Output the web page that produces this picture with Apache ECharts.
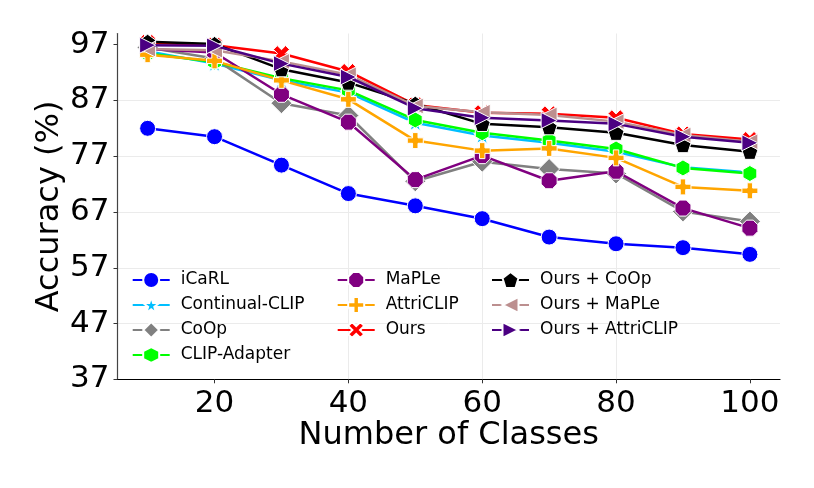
<!DOCTYPE html>
<html>
<head>
<meta charset="utf-8">
<script src="https://cdn.jsdelivr.net/npm/echarts@6/dist/echarts.min.js"></script>
<style>
html,body{margin:0;padding:0;background:#fff;}
#chart{width:814px;height:488px;}
</style>
</head>
<body>
<div id="chart"></div>
<script>
// ---- data ----
const classes = [10, 20, 30, 40, 50, 60, 70, 80, 90, 100];
const icarl        = [82.0, 80.5, 75.4, 70.3, 68.1, 65.8, 62.5, 61.3, 60.6, 59.4];
const continualClip= [95.8, 93.6, 90.6, 88.4, 83.0, 80.7, 79.4, 77.8, 75.0, 74.1];
const coop         = [96.5, 94.5, 86.5, 84.3, 72.5, 76.0, 74.7, 73.9, 67.1, 65.3];
const clipAdapter  = [95.4, 93.9, 91.0, 88.8, 83.5, 81.2, 79.8, 78.3, 74.9, 73.9];
const maple        = [96.2, 95.6, 88.1, 83.1, 72.8, 77.1, 72.6, 74.3, 67.7, 64.1];
const attriclip    = [95.2, 94.1, 90.6, 87.2, 79.8, 78.0, 78.4, 76.7, 71.5, 70.8];
const ours         = [97.4, 96.9, 95.4, 92.2, 86.2, 84.8, 84.6, 83.9, 81.0, 80.0];
const oursCoop     = [97.5, 97.1, 92.6, 90.2, 86.4, 82.8, 82.2, 81.2, 79.0, 77.8];
const oursMaple    = [96.2, 96.0, 94.0, 91.6, 86.0, 84.9, 84.4, 83.2, 80.8, 79.6];
const oursAttri    = [96.9, 96.8, 93.6, 91.2, 85.6, 83.9, 83.4, 82.8, 80.5, 79.4];
const yTicks = [37, 47, 57, 67, 77, 87, 97];
const xTicks = [20, 40, 60, 80, 100];
const legendCol1 = ['iCaRL', 'Continual-CLIP', 'CoOp', 'CLIP-Adapter'];
const legendCol2 = ['MaPLe', 'AttriCLIP', 'Ours'];
const legendCol3 = ['Ours + CoOp', 'Ours + MaPLe', 'Ours + AttriCLIP'];

// ---- marker shapes ----
const P_PENT = 'path://M50 0 L97.55 34.55 L79.39 90.45 L20.61 90.45 L2.45 34.55 Z';
const P_HEX = 'path://M50 0 L93.3 25 L93.3 75 L50 100 L6.7 75 L6.7 25 Z';
const P_OCT = 'path://M69.1 3.8 L96.2 30.9 L96.2 69.1 L69.1 96.2 L30.9 96.2 L3.8 69.1 L3.8 30.9 L30.9 3.8 Z';
const P_STAR = 'path://M50 0 L61.2 34.5 L97.6 34.5 L68.2 55.9 L79.4 90.5 L50 69.1 L20.6 90.5 L31.8 55.9 L2.4 34.5 L38.8 34.5 Z';
const P_X = 'path://M0 24 L24 0 L50 26 L76 0 L100 24 L74 50 L100 76 L76 100 L50 74 L24 100 L0 76 L26 50 Z';
const P_PLUS = 'path://M33 0 L67 0 L67 33 L100 33 L100 67 L67 67 L67 100 L33 100 L33 67 L0 67 L0 33 L33 33 Z';

const seriesDefs = [
  {name: 'iCaRL', vals: icarl, color: '#0000ff', symbol: 'circle', size: 16},
  {name: 'Continual-CLIP', vals: continualClip, color: '#00bfff', symbol: P_STAR, size: 17},
  {name: 'CoOp', vals: coop, color: '#808080', symbol: 'diamond', size: 21},
  {name: 'CLIP-Adapter', vals: clipAdapter, color: '#00ff00', symbol: P_HEX, size: 16},
  {name: 'MaPLe', vals: maple, color: '#800080', symbol: P_OCT, size: 16},
  {name: 'AttriCLIP', vals: attriclip, color: '#ffa500', symbol: P_PLUS, size: 16},
  {name: 'Ours', vals: ours, color: '#ff0000', symbol: P_X, size: 16},
  {name: 'Ours + CoOp', vals: oursCoop, color: '#000000', symbol: P_PENT, size: 16},
  {name: 'Ours + MaPLe', vals: oursMaple, color: '#bc8f8f', symbol: 'triangle', size: 16, rotate: 90},
  {name: 'Ours + AttriCLIP', vals: oursAttri, color: '#4b0082', symbol: 'triangle', size: 16, rotate: -90}
];

const FONT = 'DejaVu Sans';

const series = seriesDefs.map((d, i) => ({
  name: d.name,
  type: 'line',
  z: 2 + i,
  data: classes.map((c, j) => [c, d.vals[j]]),
  symbol: d.symbol,
  symbolSize: d.size,
  symbolRotate: d.rotate || 0,
  symbolKeepAspect: true,
  showAllSymbol: true,
  lineStyle: {color: d.color, width: 2.5},
  itemStyle: {color: d.color, borderColor: '#ffffff', borderWidth: 1},
  emphasis: {disabled: true},
  animation: false
}));

function legendAt(left, names) {
  return {
    data: names,
    orient: 'vertical',
    left: left,
    top: 271,
    padding: 0,
    itemWidth: 37,
    itemHeight: 20,
    itemGap: 7,
    selectedMode: false,
    textStyle: {fontFamily: FONT, fontSize: 17, color: '#000', lineHeight: 16, padding: [0, 0, 0, 6]}
  };
}

const chart = echarts.init(document.getElementById('chart'), null, {renderer: 'canvas'});
chart.setOption({
  animation: false,
  backgroundColor: '#ffffff',
  grid: {show: false, left: 117.5, right: 34, top: 33.5, bottom: 108.7, containLabel: false},
  legend: [legendAt(131.7, legendCol1), legendAt(336.7, legendCol2), legendAt(491, legendCol3)],
  xAxis: {
    type: 'value',
    min: 5.5,
    max: 104.5,
    name: 'Number of Classes',
    nameLocation: 'middle',
    nameGap: 40,
    nameMoveOverlap: false,
    nameTextStyle: {fontFamily: FONT, fontSize: 32, color: '#000'},
    axisLine: {show: true, lineStyle: {color: '#000', width: 1.2}},
    axisTick: {show: true, length: 4, lineStyle: {color: '#333'}, customValues: xTicks},
    axisLabel: {fontFamily: FONT, fontSize: 31, color: '#000', margin: 9, customValues: xTicks},
    splitLine: {show: true, showMinLine: false, showMaxLine: false, lineStyle: {color: '#ebebeb', width: 1}}
  },
  yAxis: {
    type: 'value',
    min: 37,
    max: 99,
    name: 'Accuracy (%)',
    nameLocation: 'middle',
    nameGap: 52,
    nameMoveOverlap: false,
    nameTextStyle: {fontFamily: FONT, fontSize: 32, color: '#000'},
    axisLine: {show: true, lineStyle: {color: '#444', width: 1.2}},
    axisTick: {show: true, length: 4, lineStyle: {color: '#333'}, customValues: yTicks},
    axisLabel: {fontFamily: FONT, fontSize: 31, color: '#000', margin: 8, customValues: yTicks},
    splitLine: {show: true, showMinLine: false, showMaxLine: false, lineStyle: {color: '#ebebeb', width: 1}}
  },
  series: series
});
</script>
</body>
</html>
